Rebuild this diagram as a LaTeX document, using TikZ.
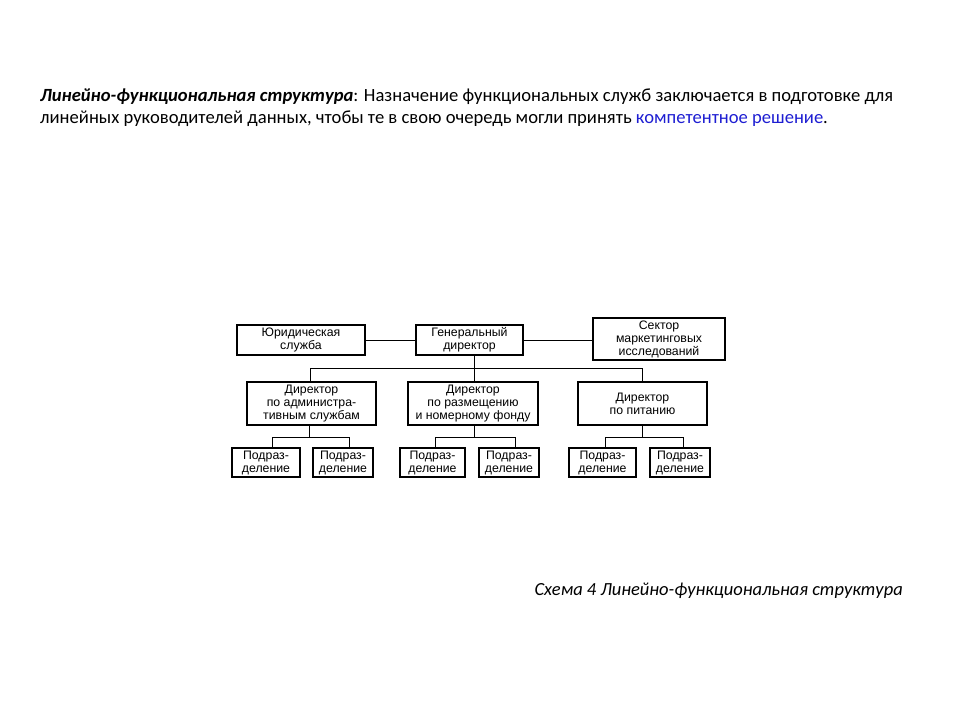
\documentclass[tikz,border=0pt]{standalone}
\usepackage{fontspec}
\setmainfont{Carlito}
\newfontfamily\diagfont{Liberation Sans}
\definecolor{linkblue}{RGB}{30,30,210}
\begin{document}
\begin{tikzpicture}[x=1pt,y=-1pt,
  box/.style={draw,line width=1.1pt,align=center,inner sep=0pt,font=\diagfont\fontsize{12.3}{13}\selectfont},
  conn/.style={line width=0.7pt}]
\useasboundingbox (0,0) rectangle (960,720);
% header text
\node[anchor=base west,inner sep=0pt,font=\fontsize{18.6}{22}\selectfont] (t1) at (40,101)
 {\textbf{\textit{Линейно-функциональная структура}}: Назначение функциональных служб заключается в подготовке для};
\node[anchor=base west,inner sep=0pt,font=\fontsize{18.6}{22}\selectfont] (t2) at (40,123)
 {линейных руководителей данных, чтобы те в свою очередь могли принять \textcolor{linkblue}{компетентное решение}.};
% caption
\node[anchor=base east,inner sep=0pt,font=\fontsize{18.5}{22}\selectfont\itshape] (cap) at (903,595)
 {Схема 4 Линейно-функциональная структура};
% top level
\node[box,minimum width=128,minimum height=30] (jur) at (301,340) {Юридическая\\служба};
\node[box,minimum width=107,minimum height=30] (gen) at (469.5,340) {Генеральный\\директор};
\node[box,minimum width=132,minimum height=42] (sek) at (659,339) {Сектор\\маркетинговых\\исследований};
% second level
\node[box,minimum width=129,minimum height=43] (d1) at (311.5,403.5) {Директор\\по администра-\\тивным службам};
\node[box,minimum width=130,minimum height=43] (d2) at (473,403.5) {Директор\\по размещению\\и номерному фонду};
\node[box,minimum width=129,minimum height=43] (d3) at (642.5,403.5) {Директор\\по питанию};
% third level
\node[box,minimum width=68,minimum height=29] (p1) at (266,462.5) {Подраз-\\деление};
\node[box,minimum width=60,minimum height=29] (p2) at (343,462.5) {Подраз-\\деление};
\node[box,minimum width=65,minimum height=29] (p3) at (432.5,462.5) {Подраз-\\деление};
\node[box,minimum width=60,minimum height=29] (p4) at (509,462.5) {Подраз-\\деление};
\node[box,minimum width=67,minimum height=29] (p5) at (602.5,462.5) {Подраз-\\деление};
\node[box,minimum width=60,minimum height=29] (p6) at (680,462.5) {Подраз-\\деление};
% connectors
\coordinate (b0) at (474,368);
\draw[conn] (jur.east) -- (gen.west);
\draw[conn] (gen.east) -- (sek.west|-gen.east);
\draw[conn] (gen.south-|b0) -- (b0);
\draw[conn] (b0) -| (d1.north-|310,0);
\draw[conn] (b0) -| (d3.north-|642,0);
\draw[conn] (b0) -- (d2.north-|b0);
\coordinate (c1) at (309,437);
\coordinate (c2) at (474,437);
\coordinate (c3) at (642,437);
\draw[conn] (d1.south-|c1) -- (c1);
\draw[conn] (c1) -| (p1.north-|272,0);
\draw[conn] (c1) -| (p2.north-|349,0);
\draw[conn] (d2.south-|c2) -- (c2);
\draw[conn] (c2) -| (p3.north-|435,0);
\draw[conn] (c2) -| (p4.north-|515,0);
\draw[conn] (d3.south-|c3) -- (c3);
\draw[conn] (c3) -| (p5.north-|605,0);
\draw[conn] (c3) -| (p6.north-|683,0);
\end{tikzpicture}
\end{document}
